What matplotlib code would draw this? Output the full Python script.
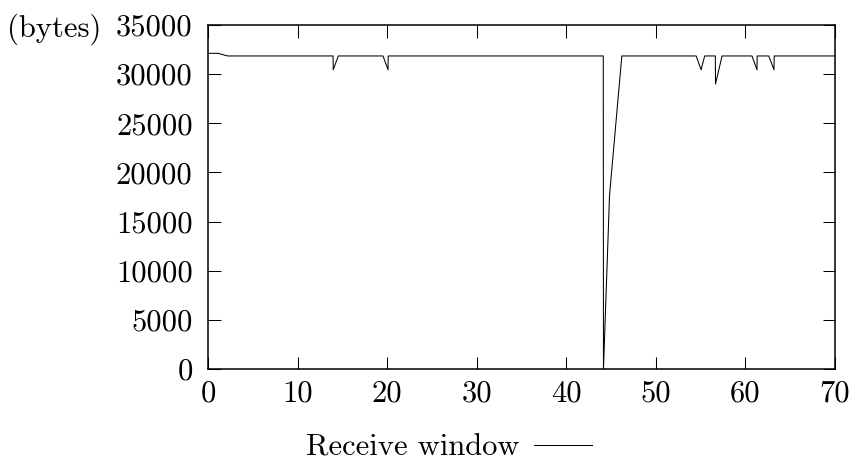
import matplotlib
matplotlib.use("Agg")
import matplotlib.pyplot as plt

# data (time, receive window in bytes)
time_s = [0, 1.1, 2.2, 13.96, 13.98, 14.55, 19.54, 20.1, 20.12,
          44.13, 44.15, 44.83, 46.2,
          54.5, 55.05, 55.45, 56.64, 56.66, 57.39,
          60.73, 61.29, 61.31, 62.6, 63.19, 63.21, 70]
rwnd = [32120, 32120, 31850, 31850, 30450, 31850, 31850, 30450, 31850,
        31850, 0, 17700, 31850,
        31850, 30450, 31850, 31850, 29000, 31850,
        31850, 30450, 31850, 31850, 30450, 31850, 31850]

x_ticks = [0, 10, 20, 30, 40, 50, 60, 70]
y_ticks = [0, 5000, 10000, 15000, 20000, 25000, 30000, 35000]
series_label = "Receive window"
y_unit = "(bytes)"

FS = 22
plt.rcParams['font.family'] = ['cmr10', 'DejaVu Serif']
plt.rcParams['axes.formatter.use_mathtext'] = True
plt.rcParams['font.size'] = FS

fig = plt.figure(figsize=(8.59, 4.70), dpi=100)
ax = fig.add_axes([208/859, 1-369/470, (835-208)/859, (369-25)/470])

ax.plot(time_s, rwnd, color='black', linewidth=0.75, label=series_label)

ax.set_xlim(0, 70)
ax.set_ylim(0, 35000)
ax.set_xticks(x_ticks)
ax.set_yticks(y_ticks)
ax.set_xticklabels([str(v) for v in x_ticks])
ax.set_yticklabels([str(v) for v in y_ticks])
ax.tick_params(direction='in', length=9, width=0.75, top=True, right=True,
               labelsize=FS)
ax.tick_params(axis='y', pad=11)
ax.tick_params(axis='x', pad=8)
for s in ax.spines.values():
    s.set_linewidth(1.1)

ax.text(101/859, 1-25/470, y_unit, transform=fig.transFigure,
        ha='right', va='center_baseline', fontsize=FS)

fig.legend(loc='center', bbox_to_anchor=(449/859, 1-448/470),
           bbox_transform=fig.transFigure, frameon=False, markerfirst=False,
           handlelength=1.9, handletextpad=0.5, fontsize=FS,
           borderpad=0, borderaxespad=0)

fig.savefig("out.png", dpi=100)
